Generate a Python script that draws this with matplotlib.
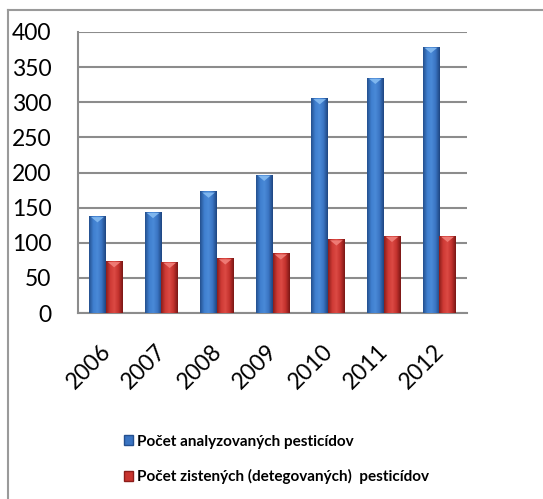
import numpy as np
import matplotlib.pyplot as plt
import matplotlib.transforms as mtransforms
from matplotlib.colors import LinearSegmentedColormap
from matplotlib.patches import Patch
from matplotlib.lines import Line2D

years = ['2006', '2007', '2008', '2009', '2010', '2011', '2012']
analyzed = [138, 144, 173, 197, 306, 335, 379]
detected = [74, 73, 78, 85, 105, 110, 110]
labels = ['Počet analyzovaných pesticídov',
          'Počet zistených (detegovaných)  pesticídov']

plt.rcParams['font.family'] = ['Lato', 'DejaVu Sans']

fig = plt.figure(figsize=(5.43, 4.99), dpi=100)
ax = fig.add_axes([78 / 543, 1 - 313 / 499, 389 / 543, 281 / 499])

x = np.arange(len(years))
w = 0.3

blue_cmap = LinearSegmentedColormap.from_list(
    'b', ['#24508f', '#3f7fcf', '#4a8ad8', '#3a74c2', '#1e4580'])
red_cmap = LinearSegmentedColormap.from_list(
    'r', ['#8c1d1a', '#cf3a35', '#dc4a44', '#c2312d', '#7a1715'])

grad = np.linspace(0, 1, 64).reshape(1, -1)


def shaded_bars(xs, vals, cmap, top_color):
    bars = ax.bar(xs, vals, w, color=cmap(0.5), zorder=3, linewidth=0)
    for b in bars:
        x0, y0 = b.get_x(), b.get_y()
        bw, bh = b.get_width(), b.get_height()
        im = ax.imshow(grad, cmap=cmap, aspect='auto', zorder=4,
                       extent=[x0, x0 + bw, y0, y0 + bh])
        im.set_clip_path(b)
        # small bevel at the top of each bar
        ax.fill([x0 + bw * 0.12, x0 + bw * 0.88, x0 + bw * 0.5],
                [y0 + bh - 1.5, y0 + bh - 1.5, y0 + bh - 9],
                color=top_color, zorder=5, linewidth=0)
    return bars


shaded_bars(x - w / 2, analyzed, blue_cmap, '#7fb6ee')
shaded_bars(x + w / 2, detected, red_cmap, '#ee7a74')

ax.set_xlim(-0.5, len(years) - 0.5)
ax.set_ylim(0, 400)
ax.set_yticks(range(0, 401, 50))
ax.yaxis.grid(True, color='#8c8c8c', linewidth=1.5, zorder=0)
ax.set_axisbelow(True)
ax.tick_params(length=0, labelsize=16.5)
ax.yaxis.set_tick_params(pad=19)
ax.set_xticks(x)
ax.set_xticklabels(years, rotation=45, ha='right', rotation_mode='anchor')
ax.xaxis.set_tick_params(pad=20)
shift = mtransforms.ScaledTranslation(-6 / 100, 0, fig.dpi_scale_trans)
for lbl in ax.get_xticklabels():
    lbl.set_transform(lbl.get_transform() + shift)
for side in ['top', 'right']:
    ax.spines[side].set_visible(False)
for side in ['left', 'bottom']:
    ax.spines[side].set_color('#8c8c8c')
    ax.spines[side].set_linewidth(1.5)

# outer chart frame, cut at the right and bottom
fig.add_artist(Line2D([8 / 543, 8 / 543], [0, 1 - 10 / 499],
                      color='#9a9a9a', linewidth=1.5))
fig.add_artist(Line2D([8 / 543, 1], [1 - 10 / 499, 1 - 10 / 499],
                      color='#9a9a9a', linewidth=1.5))

handles = [Patch(facecolor='#3a74c2', edgecolor='#24508f'),
           Patch(facecolor='#c8342f', edgecolor='#8c1d1a')]
fig.legend(handles, labels, loc='upper left',
           bbox_to_anchor=(113 / 543, 1 - 424 / 499), frameon=False,
           prop={'weight': 'bold', 'size': 11}, handlelength=0.6,
           handleheight=0.6, handletextpad=0.25, labelspacing=1.35,
           borderpad=0.2)

fig.savefig('out.png', dpi=100)
